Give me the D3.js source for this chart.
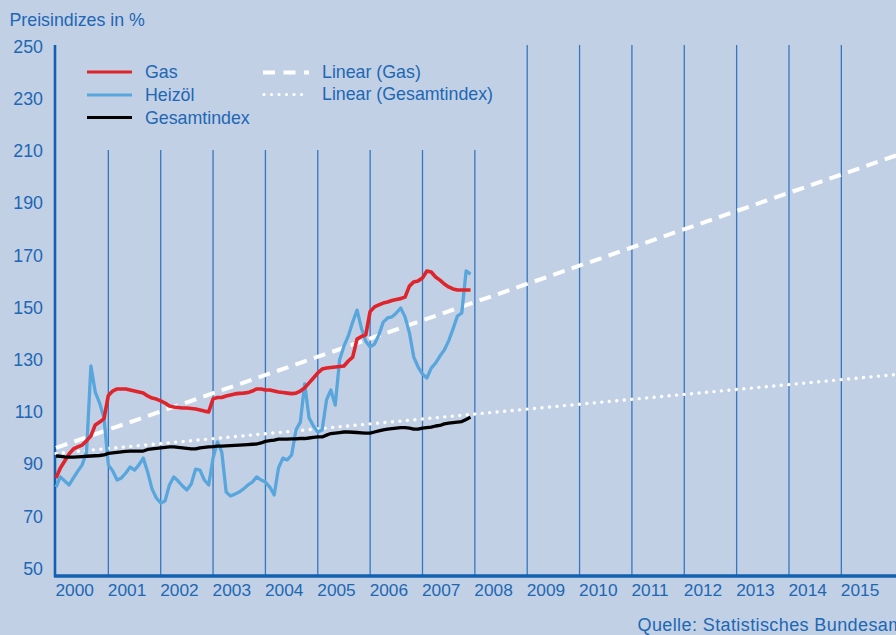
<!DOCTYPE html>
<html><head><meta charset="utf-8">
<script src="https://cdn.jsdelivr.net/npm/d3@7"></script>
<style>
html,body{margin:0;padding:0;background:#c2d0e6;}
svg{display:block;}
text{font-family:"Liberation Sans",Arial,Helvetica,sans-serif;}
</style></head><body>
<svg id="chart" width="896" height="635"></svg>
<script>
// ---- data ----
const years = ["2000","2001","2002","2003","2004","2005","2006","2007","2008","2009","2010","2011","2012","2013","2014","2015"];
const yTicks = [50,70,90,110,130,150,170,190,210,230,250];
// monthly values Jan 2000 .. Dec 2007
const gas = [84.7,88.5,91.2,93.9,95.8,96.6,97.3,98.9,100.8,105.0,106.1,107.4,
116.3,118.0,118.8,118.8,118.8,118.4,118.0,117.6,117.2,116.1,115.3,114.9,
114.2,113.4,112.3,111.9,111.7,111.5,111.5,111.3,111.1,110.7,110.3,110.0,
115.0,115.5,115.5,116.1,116.5,116.9,117.1,117.2,117.4,118.0,118.8,118.8,
118.4,118.4,118.0,117.6,117.4,117.2,117.0,117.2,118.0,119.2,121.1,123.0,
124.9,126.4,126.8,127.0,127.2,127.4,127.6,129.5,131.0,137.9,138.9,139.5,
148.5,150.2,151.0,151.7,152.1,152.7,153.1,153.4,154.0,158.2,159.8,160.2,
161.3,164.0,163.6,161.7,160.5,159.0,157.9,157.1,156.7,156.7,156.7,156.7];
const heizoel = [81.2,85.1,83.5,82.0,84.7,87.3,89.7,94.6,127.6,117.6,113.4,107.7,
89.7,87.4,83.9,84.7,86.6,88.9,87.7,89.7,92.3,87.0,80.5,77.0,
75.1,75.9,82.0,85.1,83.5,81.6,80.1,82.4,88.1,87.7,83.9,82.0,
92.3,98.5,94.6,79.3,77.8,78.5,79.3,80.5,82.0,83.1,85.1,83.9,
83.1,81.2,78.2,88.5,92.3,91.6,93.5,103.1,106.1,120.7,107.7,104.6,
102.3,103.1,114.6,118.4,112.6,129.9,135.2,139.1,144.4,149.0,142.1,137.1,
134.9,136.0,139.5,144.4,146.0,146.4,147.9,149.8,146.4,140.3,131.0,127.2,
124.5,123.0,126.8,128.7,131.4,133.7,137.2,141.8,146.7,147.9,164.0,162.8];
const gesamt = [93.1,93.0,92.8,92.7,92.7,92.8,92.9,93.0,93.1,93.2,93.3,93.5,
94.1,94.3,94.5,94.7,94.9,95.0,95.0,95.0,95.0,95.6,95.8,96.0,
96.2,96.4,96.6,96.6,96.4,96.2,96.0,95.8,95.8,96.2,96.4,96.6,
96.7,96.9,96.9,97.0,97.1,97.2,97.3,97.4,97.5,97.6,97.7,98.1,
98.7,99.0,99.2,99.6,99.6,99.6,99.7,99.7,99.8,99.8,100.0,100.2,
100.4,100.4,101.1,101.7,101.9,102.1,102.3,102.3,102.2,102.1,102.0,101.9,
101.9,102.3,102.7,103.1,103.4,103.6,103.8,104.0,104.0,103.8,103.4,103.4,
103.8,104.0,104.2,104.6,104.8,105.4,105.7,105.9,106.1,106.3,107.1,108.0];
// linear trend lines: values at start month and end month
const trendMonths = [0, 193];
const gasTrend = [96.2, 208.5];
const gesamtTrend = [94.1, 124.4];
const seriesNames = ["Gas","Heizöl","Gesamtindex"];
const trendNames = ["Linear (Gas)","Linear (Gesamtindex)"];
const titleText = "Preisindizes in %";
const sourceText = "Quelle: Statistisches Bundesamt";

// ---- styles ----
const C = {bg:"#c2d0e6", text:"#2067b3", axis:"#1260b0", grid:"#3477bf",
  gas:"#e0242b", heiz:"#58a6dc", ges:"#000000", trend:"#ffffff"};
const FS = 17.8;
const FSX = 17.3;

const svg = d3.select("#chart");
svg.append("rect").attr("width",896).attr("height",635).attr("fill",C.bg);

const x = d3.scaleLinear().domain([0,192]).range([56,893.7]);
const y = d3.scaleLinear().domain([50,250]).range([568.5,46.5]);

// gridlines at year boundaries
const gridYears = d3.range(1, years.length);
svg.append("g").selectAll("line").data(gridYears).join("line")
  .attr("x1", k => x(12*k)).attr("x2", k => x(12*k))
  .attr("y1", k => k <= 8 ? y(210) - 1 : 45)
  .attr("y2", 576)
  .attr("stroke", C.grid).attr("stroke-width", 1.3);

// y axis
const gy = svg.append("g").attr("transform","translate(55,0)")
  .call(d3.axisLeft(y).tickValues(yTicks).tickSize(0).tickPadding(12));
gy.select(".domain").remove();
gy.selectAll("text").attr("fill",C.text).attr("font-size",FS)
  .attr("font-family",'"Liberation Sans",Arial,sans-serif');
svg.append("line").attr("x1",55).attr("x2",55).attr("y1",45).attr("y2",577)
  .attr("stroke",C.axis).attr("stroke-width",2.6);

// x axis
const gx = svg.append("g").attr("transform","translate(0,576)")
  .call(d3.axisBottom(x).tickValues(years.map((d,i)=>12*i)).tickSize(0).tickPadding(8)
    .tickFormat((d,i)=>years[i]));
gx.select(".domain").remove();
gx.selectAll("text").attr("fill",C.text).attr("font-size",FSX)
  .attr("text-anchor","start").attr("dx",-1)
  .attr("font-family",'"Liberation Sans",Arial,sans-serif');
svg.append("line").attr("x1",54).attr("x2",896).attr("y1",576).attr("y2",576)
  .attr("stroke",C.axis).attr("stroke-width",3.4);

// trend lines
const tline = d3.line().x((d,i)=>x(trendMonths[i])).y(d=>y(d));
svg.append("path").datum(gasTrend).attr("d",tline).attr("fill","none")
  .attr("stroke",C.trend).attr("stroke-width",4).attr("stroke-dasharray","12,7.5");
svg.append("path").datum(gesamtTrend).attr("d",tline).attr("fill","none")
  .attr("stroke",C.trend).attr("stroke-width",3.4).attr("stroke-linecap","round")
  .attr("stroke-dasharray","0.01,7.5");

// data series
const line = d3.line().x((d,i)=>x(i)).y(d=>y(d));
const series = [
  {data:heizoel, color:C.heiz, w:3.3},
  {data:gas, color:C.gas, w:3.6},
  {data:gesamt, color:C.ges, w:3.3}
];
series.forEach(s => {
  svg.append("path").datum(s.data).attr("d",line).attr("fill","none")
    .attr("stroke",s.color).attr("stroke-width",s.w)
    .attr("stroke-linejoin","round");
});

// title & source
svg.append("text").attr("x",9.5).attr("y",25.7).attr("fill",C.text)
  .attr("font-size",FS).text(titleText);
svg.append("text").attr("x",637.5).attr("y",631).attr("fill",C.text)
  .attr("font-size",18).attr("letter-spacing",0.4).text(sourceText);

// legend
const legColors = [C.gas, C.heiz, C.ges];
const legY = [72, 95, 117.5];
const lg = svg.append("g");
seriesNames.forEach((n,i) => {
  lg.append("line").attr("x1",87).attr("x2",132).attr("y1",legY[i]).attr("y2",legY[i])
    .attr("stroke",legColors[i]).attr("stroke-width",3);
  lg.append("text").attr("x",145).attr("y",legY[i]+6).attr("fill",C.text)
    .attr("font-size",FS).text(n);
});
const tY = [72.5, 94.5];
trendNames.forEach((n,i) => {
  const l = lg.append("line").attr("x1", i===0 ? 263 : 264).attr("x2",309)
    .attr("y1",tY[i]).attr("y2",tY[i]).attr("stroke",C.trend);
  if (i===0) l.attr("stroke-width",4).attr("stroke-dasharray","12,8.5");
  else l.attr("stroke-width",3.2).attr("stroke-linecap","round").attr("stroke-dasharray","0.01,7.5");
  lg.append("text").attr("x",322).attr("y",tY[i]+5.5).attr("fill",C.text)
    .attr("font-size",FS).text(n);
});
</script>
</body></html>
